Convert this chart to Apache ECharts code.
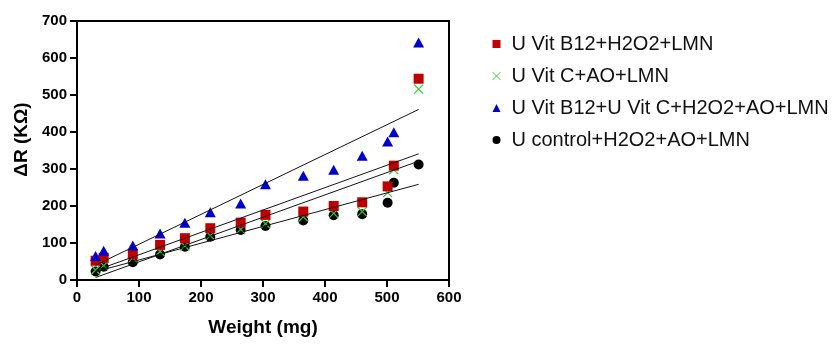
<!DOCTYPE html>
<html>
<head>
<meta charset="utf-8">
<script src="https://cdn.jsdelivr.net/npm/echarts@6/dist/echarts.min.js"></script>
<style>
html, body { margin: 0; padding: 0; background: #fff; }
#chart { width: 838px; height: 344px; }
</style>
</head>
<body>
<div id="chart"></div>
<script>
// 重量 (mg)
var weights = [30, 43, 90, 134, 174, 215, 264, 304, 365, 414, 460, 501, 511, 551];
// ΔR (KΩ)
var vitB12 = [52, 60, 69, 95, 113, 140, 155, 176, 185, 200, 210, 253, 309, 544];
var vitC = [27, 39, 59, 77, 92, 120, 137, 152, 171, 180, 185, 236, 298, 516];
var vitB12C = [65, 79, 93, 126, 155, 183, 207, 259, 282, 298, 336, 374, 399, 642];
var control = [23, 36, 48, 69, 90, 117, 135, 146, 161, 175, 178, 209, 263, 312];
var xTicks = [0, 100, 200, 300, 400, 500, 600];

var names = ['U Vit B12+H2O2+LMN', 'U Vit C+AO+LMN', 'U Vit B12+U Vit C+H2O2+AO+LMN', 'U control+H2O2+AO+LMN'];
var crossPath = 'path://M0,0L10,10M10,0L0,10';

function pairs(ys) {
    var out = [];
    for (var i = 0; i < weights.length; i++) out.push([weights[i], ys[i]]);
    return out;
}
//线性拟合
function fitLine(ys) {
    var n = weights.length, sx = 0, sy = 0, sxx = 0, sxy = 0;
    for (var i = 0; i < n; i++) {
        sx += weights[i]; sy += ys[i];
        sxx += weights[i] * weights[i]; sxy += weights[i] * ys[i];
    }
    var k = (n * sxy - sx * sy) / (n * sxx - sx * sx);
    var b = (sy - k * sx) / n;
    var x0 = weights[0], x1 = weights[n - 1];
    return [[x0, k * x0 + b], [x1, k * x1 + b]];
}
function lineSeries(ys) {
    return {
        type: 'line', data: fitLine(ys), symbol: 'none', silent: true, z: 5,
        lineStyle: {color: '#111', width: 1}
    };
}

var chart = echarts.init(document.getElementById('chart'));
chart.setOption({
    animation: false,
    grid: {left: 77, right: 389, top: 21, bottom: 64, show: true, borderColor: '#000', borderWidth: 2},
    legend: {
        orient: 'vertical', left: 485, top: 29, itemWidth: 8, itemHeight: 8, itemGap: 12,
        textStyle: {fontFamily: 'Liberation Sans', fontSize: 20, lineHeight: 20, color: '#111', padding: [0, 0, 0, 6]},
        data: [
            {name: names[0], icon: 'rect'},
            {name: names[1], icon: crossPath, itemStyle: {color: 'none', borderColor: '#33cc33', borderWidth: 1}},
            {name: names[2], icon: 'triangle'},
            {name: names[3], icon: 'circle'}
        ]
    },
    xAxis: {
        type: 'value', min: 0, max: 600, interval: 100,
        name: 'Weight (mg)', nameLocation: 'middle', nameGap: 38,
        nameTextStyle: {fontFamily: 'Liberation Sans', fontSize: 19, fontWeight: 'bold', color: '#000'},
        axisLine: {lineStyle: {color: '#000', width: 2}},
        axisTick: {length: 7, lineStyle: {width: 2}},
        splitLine: {show: false},
        axisLabel: {margin: 10, fontFamily: 'Liberation Sans', fontSize: 15, fontWeight: 'bold', color: '#000',
            formatter: function (v) { return xTicks.indexOf(v) >= 0 ? v : ''; }}
    },
    yAxis: {
        type: 'value', min: 0, max: 700, interval: 100,
        name: 'ΔR (KΩ)', nameLocation: 'middle', nameGap: 46,
        nameTextStyle: {fontFamily: 'Liberation Sans', fontSize: 19, fontWeight: 'bold', color: '#000', padding: [0, 0, 0, 22]},
        axisLine: {show: true, lineStyle: {color: '#000', width: 2}},
        axisTick: {show: true, length: 7, lineStyle: {width: 2}},
        splitLine: {show: false},
        axisLabel: {margin: 10, fontFamily: 'Liberation Sans', fontSize: 15, fontWeight: 'bold', color: '#000'}
    },
    series: [
        {name: names[3], type: 'scatter', data: pairs(control), symbol: 'circle', symbolSize: 10, z: 2,
            itemStyle: {color: '#000', opacity: 1}},
        {name: names[1], type: 'scatter', data: pairs(vitC), symbol: crossPath, symbolSize: 9, z: 3,
            itemStyle: {color: 'none', borderColor: '#33cc33', borderWidth: 1.2, opacity: 1}},
        {name: names[0], type: 'scatter', data: pairs(vitB12), symbol: 'rect', symbolSize: 10, z: 3,
            itemStyle: {color: '#c00000', opacity: 1}},
        {name: names[2], type: 'scatter', data: pairs(vitB12C), symbol: 'triangle', symbolSize: [11, 10], z: 4,
            itemStyle: {color: '#0000cc', opacity: 1}},
        lineSeries(vitB12C),
        lineSeries(vitB12),
        lineSeries(vitC),
        lineSeries(control)
    ]
});
</script>
</body>
</html>
